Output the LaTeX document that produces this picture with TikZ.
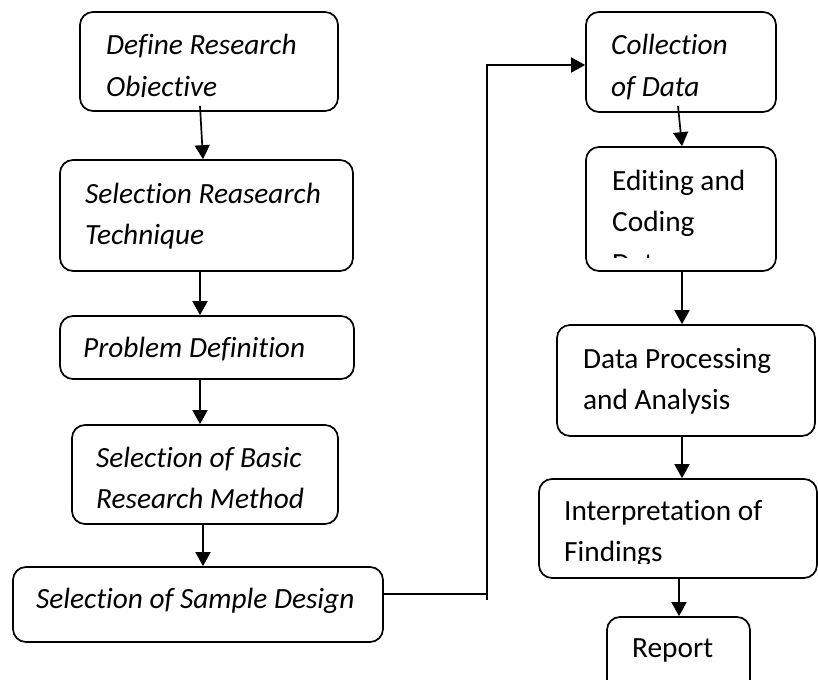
\documentclass[tikz,border=0pt]{standalone}
\usepackage{fontspec}
\setmainfont{Carlito}[Ligatures=NoCommon]
\usetikzlibrary{arrows.meta}
\tikzset{
  stage/.style={draw, rounded corners=13pt, line width=1.7pt, inner sep=0pt},
  stagetext/.style={anchor=base west, align=left, inner sep=0pt, font=\fontsize{29.3}{41.5}\selectfont\itshape},
  stagetextup/.style={stagetext, font=\fontsize{29.3}{41.5}\selectfont\upshape},
  flow/.style={-{Triangle[length=14pt,width=15pt]}, line width=1.7pt}
}
\begin{document}
\begin{tikzpicture}[x=1pt,y=-1pt]
    \clip (0,0) rectangle (818,679);

    % left column (text nodes sit on the baseline of their last line)
    \node[stage, minimum width=258, minimum height=99] (obj) at (209,61.5) {};
    \begin{scope}
      \clip (80,12) rectangle (338,97);
      \node[stagetext] (objtxt) at (106,96.5) {Define Research\\Objective};
    \end{scope}
    \node[stage, minimum width=293, minimum height=111] (tech) at (206.5,215.5) {};
    \node[stagetext] (techtxt) at (85,244.5) {Selection Reasearch\\Technique};
    \node[stage, minimum width=294, minimum height=63] (prob) at (207,347.5) {};
    \node[stagetext] (probtxt) at (83,357) {Problem Definition};
    \node[stage, minimum width=266, minimum height=99] (meth) at (205,474.5) {};
    \node[stagetext] (methtxt) at (96,508.5) {Selection of Basic\\Research Method};
    \node[stage, minimum width=370, minimum height=75] (samp) at (198,604.5) {};
    \node[stagetext] (samptxt) at (36,608) {Selection of Sample Design};

    % right column
    \node[stage, minimum width=190, minimum height=100] (coll) at (681,62) {};
    \node[stagetext] (colltxt) at (611,96.5) {Collection\\of Data};
    \node[stage, minimum width=190, minimum height=124] (edit) at (681,209) {};
    \begin{scope}
      \clip (586,147) rectangle (776,257);
      \node[stagetextup] (edittxt) at (612,273) {Editing and\\Coding\\Data};
    \end{scope}
    \node[stage, minimum width=258, minimum height=111] (proc) at (686,380.5) {};
    \node[stagetextup] (proctxt) at (583,409.5) {Data Processing\\and Analysis};
    \node[stage, minimum width=278, minimum height=99] (intr) at (678,528.5) {};
    \begin{scope}
      \clip (539,479) rectangle (817,563);
      \node[stagetextup] (intrtxt) at (564,561.5) {Interpretation of\\Findings};
    \end{scope}
    \node[stage, minimum width=143, minimum height=78] (rep) at (678.5,656) {};
    \node[stagetextup] (reptxt) at (632,657) {Report};

    % arrows down the left column
    \draw[flow] ([xshift=-9pt,yshift=6pt]obj.south) -- ([xshift=-3.5pt]tech.north);
    \draw[flow] ([xshift=-6.5pt]tech.south) -- ([xshift=-6.5pt]tech.south |- prob.north);
    \draw[flow] ([xshift=-7pt]prob.south) -- ([xshift=-7pt]prob.south |- meth.north);
    \draw[flow] ([xshift=-2pt]meth.south) -- ([xshift=-2pt]meth.south |- samp.north);

    % link over to the right column
    \coordinate (bend) at (487,600);
    \coordinate (out) at ([yshift=10.5pt]samp.east);
    \draw[line width=1.7pt] (out) -- (out -| bend);
    \draw[flow] (bend) |- ([yshift=-3pt]coll.west);

    % arrows down the right column
    \draw[flow] ([xshift=-3pt,yshift=7pt]coll.south) -- ([xshift=1pt]edit.north);
    \draw[flow] ([xshift=1pt]edit.south) -- ([xshift=1pt]edit.south |- proc.north);
    \draw[flow] ([xshift=-4pt]proc.south) -- ([xshift=-4pt]proc.south |- intr.north);
    \draw[flow] ([xshift=1pt]intr.south) -- ([xshift=1pt]intr.south |- rep.north);
\end{tikzpicture}
\end{document}
